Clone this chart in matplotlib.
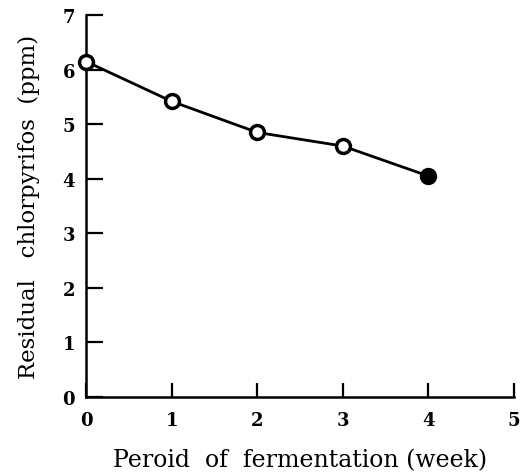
import matplotlib.pyplot as plt

weeks = [0, 1, 2, 3, 4]
residual = [6.15, 5.42, 4.85, 4.60, 4.05]
filled = [False, False, False, False, True]

plt.rcParams['font.family'] = ['DejaVu Serif']

fig = plt.figure(figsize=(5.25, 4.77), dpi=100)
ax = fig.add_axes([0.164, 0.166, 0.815, 0.800])

ax.plot(weeks, residual, color='black', linewidth=2, zorder=2)
for x, y, f in zip(weeks, residual, filled):
    ax.plot(x, y, 'o', markersize=10, markeredgewidth=2.5,
            markeredgecolor='black', markerfacecolor='black' if f else 'white',
            zorder=3, clip_on=False)

ax.set_xlim(0, 5)
ax.set_ylim(0, 7)
ax.set_xticks(range(6))
ax.set_yticks(range(8))
ax.spines['top'].set_visible(False)
ax.spines['right'].set_visible(False)
ax.spines['left'].set_linewidth(1.8)
ax.spines['bottom'].set_linewidth(1.8)
ax.tick_params(axis='y', direction='in', length=12, width=1.6, labelsize=13, pad=8)
ax.tick_params(axis='x', direction='in', length=10, width=1.6, labelsize=13, pad=10)
for lab in ax.get_xticklabels() + ax.get_yticklabels():
    lab.set_fontweight('bold')

ax.set_ylabel('Residual   chlorpyrifos  (ppm)', fontsize=16.5, labelpad=16)
ax.set_xlabel('Peroid  of  fermentation (week)', fontsize=17, labelpad=14)

fig.savefig('out.png', dpi=100)
